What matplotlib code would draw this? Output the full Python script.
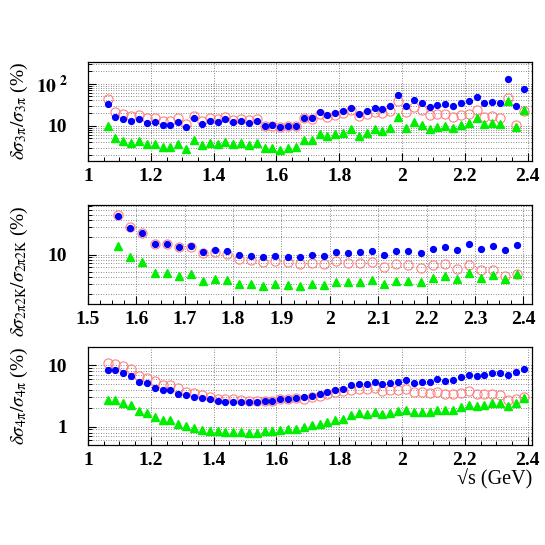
import matplotlib
matplotlib.use("Agg")
import matplotlib.pyplot as plt
from matplotlib.ticker import MultipleLocator, LogLocator, NullFormatter, FixedLocator, FixedFormatter

plt.rcParams['font.family'] = ['Liberation Serif', 'DejaVu Serif']
plt.rcParams['mathtext.fontset'] = 'stix'

# energy points (GeV)
x_3pi = [1.0625, 1.0875, 1.1125, 1.1375, 1.1625, 1.1875, 1.2125, 1.2375, 1.2625, 1.2875,
         1.3125, 1.3375, 1.3625, 1.3875, 1.4125, 1.4375, 1.4625, 1.4875, 1.5125, 1.5375,
         1.5625, 1.5875, 1.6125, 1.6375, 1.6625, 1.6875, 1.7125, 1.7375, 1.7625, 1.7875,
         1.8125, 1.8375, 1.8625, 1.8875, 1.9125, 1.9375, 1.9625, 1.9875, 2.0125, 2.0375,
         2.0625, 2.0875, 2.1125, 2.1375, 2.1625, 2.1875, 2.2125, 2.2375, 2.2625, 2.2875,
         2.3125, 2.3375, 2.3625, 2.3875]
x_4pi = list(x_3pi)
x_2pi2k = [1.5625, 1.5875, 1.6125, 1.6375, 1.6625, 1.6875, 1.7125, 1.7375, 1.7625, 1.7875,
           1.8125, 1.8375, 1.8625, 1.8875, 1.9125, 1.9375, 1.9625, 1.9875, 2.0125, 2.0375,
           2.0625, 2.0875, 2.1125, 2.1375, 2.1625, 2.1875, 2.2125, 2.2375, 2.2625, 2.2875,
           2.3125, 2.3375, 2.3625, 2.3875]

# 3pi
blue_3pi = [32.6, 16.2, 14.2, 13.2, 14.7, 11.8, 12.3, 10.2, 10.4, 12.3, 9.5, 15.3, 11.2, 13.2,
            12.1, 14.7, 12.1, 13.0, 11.4, 13.0, 9.7, 10.2, 9.2, 10.0, 10.0, 15.6, 15.3, 20.9,
            18.3, 20.2, 22.5, 26.6, 19.1, 22.9, 26.6, 25.1, 29.2, 53.6, 29.7, 41.3, 34.4, 27.6,
            30.8, 33.2, 29.2, 34.4, 38.5, 49.5, 35.6, 37.7, 35.6, 127, 30.2, 74.7]
red_3pi = [43.7, 20.9, 18.7, 16.8, 17.7, 15.5, 15.5, 13.0, 13.0, 15.0, 11.2, 17.1, 13.2, 15.3,
           14.2, 16.4, 13.9, 14.2, 13.4, 14.2, 9.8, 10.0, 9.2, 10.0, 9.8, 15.0, 14.5, 19.1,
           16.4, 18.0, 19.8, 23.4, 16.8, 18.7, 20.9, 20.2, 21.9, 39.0, 20.9, 28.0, 23.4, 17.7,
           18.7, 19.4, 16.4, 18.0, 19.4, 24.2, 16.2, 17.1, 15.0, 46.1, 10.6, 22.5]
green_3pi = [9.8, 5.0, 4.3, 3.9, 4.3, 3.6, 3.6, 3.1, 3.1, 3.7, 2.8, 4.5, 3.4, 3.85, 3.6, 4.2,
             3.6, 3.85, 3.4, 3.85, 2.9, 3.0, 2.7, 3.0, 3.1, 4.5, 4.5, 6.3, 5.7, 6.2, 6.7, 8.2,
             5.7, 6.7, 8.3, 7.5, 9.0, 16.2, 9.0, 12.3, 10.4, 8.6, 9.2, 10.0, 9.0, 10.4, 11.4,
             15.3, 10.8, 11.4, 10.8, 39.0, 9.2, 23.4]

# 2pi2K
blue_2pi2k = [48, 29.2, 23.8, 15.3, 15.5, 13.7, 13.9, 11.2, 11.8, 11.5, 10.0, 9.5, 8.9, 9.4,
              9.2, 8.9, 9.8, 9.5, 10.9, 10.6, 10.9, 11.7, 10.0, 11.5, 11.5, 10.7, 12.6, 13.5,
              12.1, 15.3, 12.6, 13.9, 12.0, 14.7]
red_2pi2k = [49, 30, 23.8, 15.1, 15.3, 13.4, 13.5, 10.5, 10.9, 10.2, 8.4, 8.0, 7.4, 7.7, 7.3,
             6.8, 7.2, 6.8, 7.6, 7.2, 7.2, 7.4, 6.0, 6.7, 6.5, 5.9, 6.5, 6.7, 5.6, 6.6, 5.3,
             5.35, 4.2, 4.6]
green_2pi2k = [14.3, 8.9, 7.4, 4.7, 4.8, 4.2, 4.5, 3.5, 3.8, 3.6, 3.1, 3.0, 2.8, 3.0, 2.9,
               2.8, 3.0, 2.9, 3.3, 3.3, 3.3, 3.6, 3.05, 3.5, 3.5, 3.3, 3.9, 4.2, 3.7, 4.7, 3.9,
               4.3, 3.7, 4.6]

# 4pi
blue_4pi = [8.5, 8.3, 7.5, 6.8, 5.4, 5.1, 4.3, 4.0, 3.9, 3.45, 3.25, 3.1, 2.93, 2.8, 2.65,
            2.55, 2.52, 2.52, 2.52, 2.52, 2.6, 2.58, 2.8, 2.8, 2.96, 3.0, 3.2, 3.37, 3.64, 4.0,
            4.08, 4.7, 4.9, 5.0, 5.3, 4.9, 5.2, 5.4, 5.75, 5.25, 5.4, 5.3, 5.9, 5.65, 5.75,
            6.4, 6.9, 6.7, 6.9, 7.6, 7.5, 6.9, 7.7, 8.9]
red_4pi = [11.1, 10.7, 9.9, 8.7, 6.8, 6.3, 5.5, 4.85, 4.8, 4.2, 3.7, 3.5, 3.3, 3.0, 2.85, 2.8,
           2.8, 2.7, 2.6, 2.58, 2.65, 2.58, 2.8, 2.8, 2.93, 2.85, 3.0, 3.16, 3.37, 3.64, 3.78,
           4.0, 4.1, 4.1, 4.3, 3.87, 4.0, 4.0, 4.08, 3.7, 3.7, 3.5, 3.64, 3.45, 3.37, 3.58,
           3.78, 3.4, 3.4, 3.45, 3.25, 2.7, 2.85, 3.0]
green_4pi = [2.75, 2.75, 2.45, 2.22, 1.8, 1.66, 1.42, 1.28, 1.27, 1.1, 1.04, 0.95, 0.89, 0.85,
             0.84, 0.82, 0.82, 0.82, 0.8, 0.8, 0.84, 0.84, 0.87, 0.9, 0.92, 1.0, 1.06, 1.1, 1.2,
             1.3, 1.33, 1.54, 1.64, 1.62, 1.74, 1.6, 1.68, 1.77, 1.86, 1.7, 1.74, 1.72, 1.88,
             1.84, 1.84, 2.07, 2.27, 2.16, 2.22, 2.42, 2.4, 2.2, 2.45, 2.9]


def panel(ax, x, red, blue, green, xlim, ylim, xmaj, xmin, yticks, ylabels, ylabel):
    ax.set_yscale('log')
    ax.plot(x, red, 'o', ms=6.6, mfc='none', mec='#ff8080', mew=0.8, zorder=3)
    ax.plot(x, blue, 'o', ms=4.2, color='#0000ff', mec='#0000ff', zorder=4)
    ax.plot(x, green, '^', ms=5.8, color='#00ee00', mec='#00ee00', zorder=5)
    ax.set_xlim(*xlim)
    ax.set_ylim(*ylim)
    ax.xaxis.set_major_locator(MultipleLocator(xmaj))
    ax.xaxis.set_minor_locator(MultipleLocator(xmin))
    ax.xaxis.set_major_formatter(plt.FuncFormatter(lambda v, p: '%g' % round(v, 3)))
    ax.yaxis.set_major_locator(FixedLocator(yticks))
    ax.yaxis.set_major_formatter(FixedFormatter(ylabels))
    ax.yaxis.set_minor_locator(LogLocator(base=10, subs=(2, 3, 4, 5, 6, 7, 8, 9), numticks=20))
    ax.yaxis.set_minor_formatter(NullFormatter())
    ax.tick_params(which='both', direction='in', top=False, right=False)
    ax.tick_params(which='major', length=6, width=0.8)
    ax.tick_params(which='minor', length=3, width=0.7)
    ax.tick_params(axis='x', which='major', pad=5, labelsize=14)
    ax.tick_params(axis='y', which='major', pad=15, labelsize=14)
    for lab in ax.get_xticklabels() + ax.get_yticklabels():
        lab.set_fontweight('bold')
    ax.grid(True, which='major', axis='x', color='0.4', lw=0.6, ls=(0, (1, 2)))
    ax.grid(True, which='both', axis='y', color='0.4', lw=0.6, ls=(0, (1, 2)))
    ax.set_axisbelow(True)
    for s in ax.spines.values():
        s.set_linewidth(0.9)
    ax.set_ylabel(ylabel, fontsize=14, loc='top')
    ax.yaxis.set_label_coords(-0.13, 1.0)


fig = plt.figure(figsize=(5.45, 5.45), dpi=100)
ax1 = fig.add_axes([0.1615, 0.7046, 0.8147, 0.1817])
ax2 = fig.add_axes([0.1615, 0.4422, 0.8147, 0.1817])
ax3 = fig.add_axes([0.1615, 0.1835, 0.8147, 0.1798])

panel(ax1, x_3pi, red_3pi, blue_3pi, green_3pi, (1.0, 2.414), (1.45, 330), 0.2, 0.05,
      [10, 100], ['10', r'$\mathbf{10}^{\mathbf{\ 2}}$'],
      r'$\delta\sigma_{\mathrm{3\pi}}/\sigma_{\mathrm{3\pi}}$ (%)')
panel(ax2, x_2pi2k, red_2pi2k, blue_2pi2k, green_2pi2k, (1.5, 2.418), (1.36, 74), 0.1, 0.025,
      [10], ['10'],
      r'$\delta\sigma_{\mathrm{2\pi 2K}}/\sigma_{\mathrm{2\pi 2K}}$ (%)')
panel(ax3, x_4pi, red_4pi, blue_4pi, green_4pi, (1.0, 2.414), (0.5, 20), 0.2, 0.05,
      [1, 10], ['1', '10'],
      r'$\delta\sigma_{\mathrm{4\pi}}/\sigma_{\mathrm{4\pi}}$ (%)')

ax3.set_xlabel('\u221as (GeV)', fontsize=14.5, loc='right', labelpad=0)

fig.savefig('out.png', dpi=100)
